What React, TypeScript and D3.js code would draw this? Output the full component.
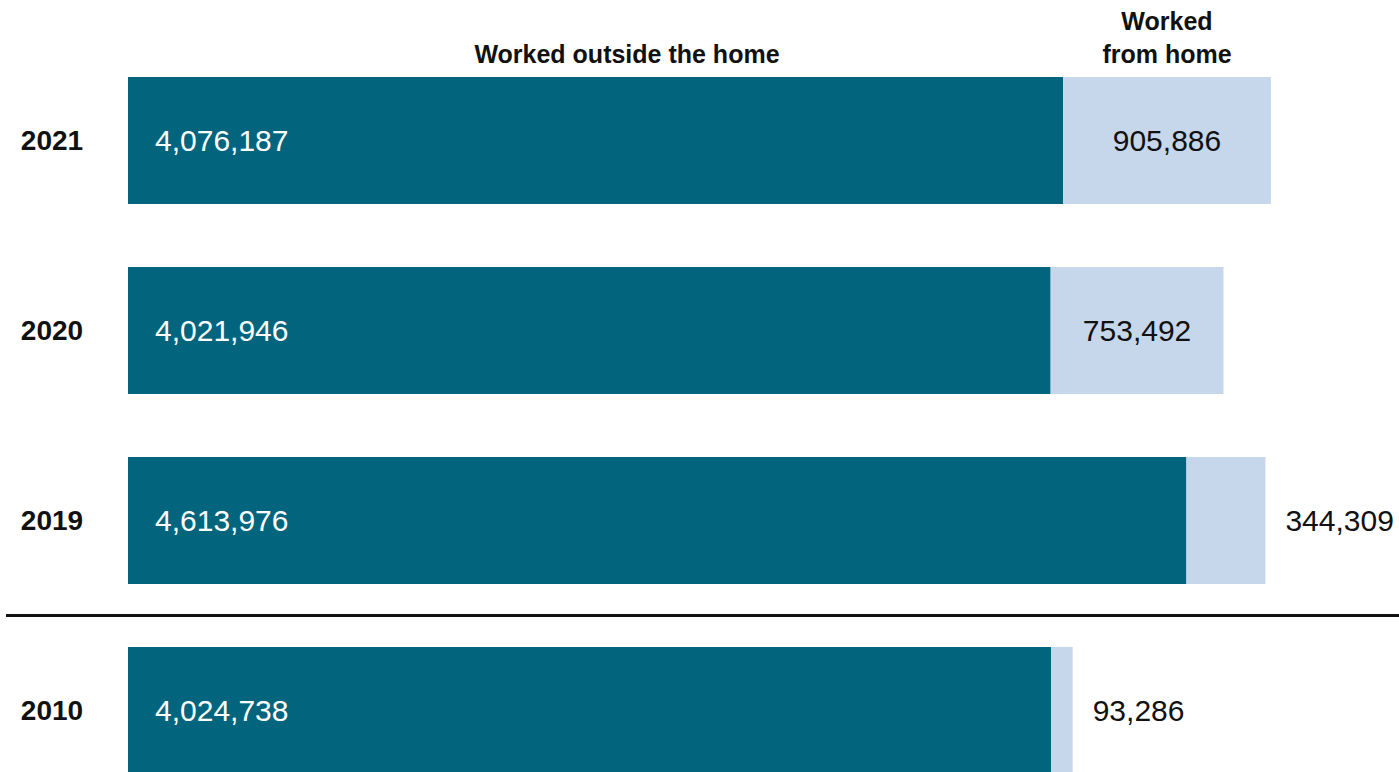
import React from "react";
import * as d3 from "d3";

const years = ["2021", "2020", "2019", "2010"];
const outsideHome = [4076187, 4021946, 4613976, 4024738];
const fromHome = [905886, 753492, 344309, 93286];
const headerOutside = "Worked outside the home";
const headerHome = ["Worked", "from home"];

const W = 1399;
const H = 772;
const DARK = "#02657d";
const LIGHT = "#c6d7eb";
const FONT = "'Liberation Sans', Arial, sans-serif";

export default function App() {
  const x = d3.scaleLinear().domain([0, 5000000]).range([128, 1275]);
  const y = d3
    .scaleBand<string>()
    .domain(years)
    .range([77, 774])
    .paddingInner(0.3316)
    .paddingOuter(0);
  const bw = y.bandwidth();
  const fmt = d3.format(",");

  const sepY = ((y("2019") as number) + bw + (y("2010") as number)) / 2;

  const lightCenter2021 = (x(outsideHome[0]) + x(outsideHome[0] + fromHome[0])) / 2;

  return (
    <svg
      width={W}
      height={H}
      style={{ position: "absolute", left: 0, top: 0, background: "#fff" }}
      fontFamily={FONT}
    >
      <text x={627} y={63} textAnchor="middle" fontSize={25} fontWeight="bold" fill="#111">
        {headerOutside}
      </text>
      {headerHome.map((t, i) => (
        <text
          key={t}
          x={lightCenter2021}
          y={30 + i * 33}
          textAnchor="middle"
          fontSize={25}
          fontWeight="bold"
          fill="#111"
        >
          {t}
        </text>
      ))}
      {years.map((yr, i) => {
        const y0 = y(yr) as number;
        const cy = y0 + bw / 2;
        const x0 = x(0);
        const x1 = x(outsideHome[i]);
        const x2 = x(outsideHome[i] + fromHome[i]);
        const inside = x2 - x1 > 120;
        return (
          <g key={yr}>
            <text x={52} y={cy} dy="0.35em" textAnchor="middle" fontSize={28} fontWeight="bold" fill="#111">
              {yr}
            </text>
            <rect x={x0} y={y0} width={x1 - x0} height={bw} fill={DARK} />
            <rect x={x1} y={y0} width={x2 - x1} height={bw} fill={LIGHT} />
            <text x={x0 + 27} y={cy} dy="0.35em" fontSize={30} fill="#fff">
              {fmt(outsideHome[i])}
            </text>
            <text
              x={inside ? (x1 + x2) / 2 : x2 + 20}
              y={cy}
              dy="0.35em"
              textAnchor={inside ? "middle" : "start"}
              fontSize={30}
              fill="#111"
            >
              {fmt(fromHome[i])}
            </text>
          </g>
        );
      })}
      <line x1={6} x2={W} y1={sepY} y2={sepY} stroke="#111" strokeWidth={3} />
    </svg>
  );
}
